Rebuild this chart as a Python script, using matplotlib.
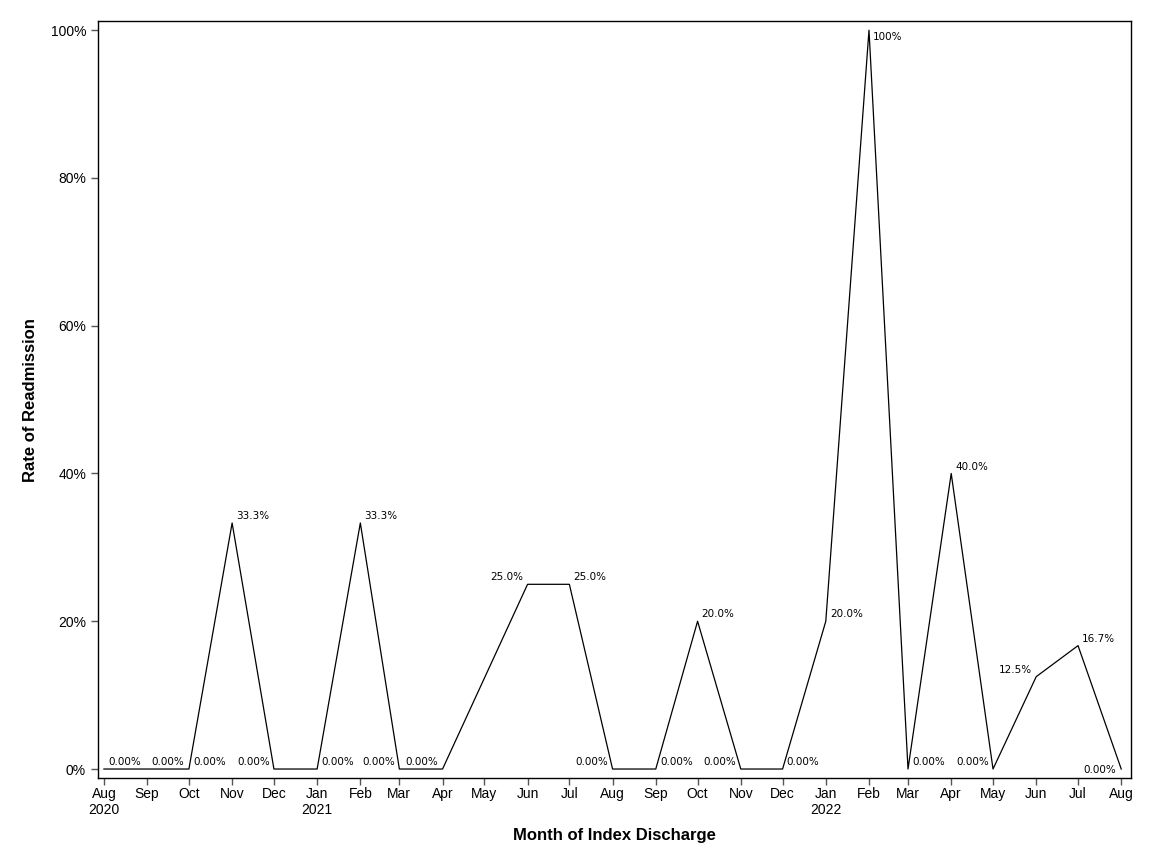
import numpy as np
import pandas as pd
import matplotlib
matplotlib.use('Agg')
import matplotlib.pyplot as plt
import matplotlib.dates as mdates
from matplotlib.ticker import FuncFormatter

plt.rcParams['font.family'] = ['Liberation Sans', 'DejaVu Sans']

# Monthly readmission rate (%) - May 2021 has no data
months = ['2020-08', '2020-09', '2020-10', '2020-11', '2020-12',
          '2021-01', '2021-02', '2021-03', '2021-04',
          '2021-06', '2021-07', '2021-08', '2021-09', '2021-10', '2021-11', '2021-12',
          '2022-01', '2022-02', '2022-03', '2022-04', '2022-05', '2022-06', '2022-07', '2022-08']
rates = [0, 0, 0, 33.3, 0,
         0, 33.3, 0, 0,
         25.0, 25.0, 0, 0, 20.0, 0, 0,
         20.0, 100, 0, 40.0, 0, 12.5, 16.7, 0]
labels = ['0.00%', '0.00%', '0.00%', '33.3%', '0.00%',
          '0.00%', '33.3%', '0.00%', '0.00%',
          '25.0%', '25.0%', '0.00%', '0.00%', '20.0%', '0.00%', '0.00%',
          '20.0%', '100%', '0.00%', '40.0%', '0.00%', '12.5%', '16.7%', '0.00%']

# where each data label sits relative to its point
label_side = ['r', 'r', 'r', 'r', 'l',
              'r', 'r', 'l', 'l',
              'l', 'r', 'l', 'r', 'r', 'l', 'r',
              'r', 'rb', 'r', 'r', 'l', 'l', 'r', 'lb']

dates = pd.to_datetime(months)

fig = plt.figure(figsize=(11.52, 8.64), dpi=100)
ax = fig.add_axes([0.085, 0.0995, 0.897, 0.876])

ax.plot(dates, rates, color='black', lw=0.9)

offsets = {'r': (3, 5, 'left', 'center'),
           'l': (-3, 5, 'right', 'center'),
           'rb': (3, -1.5, 'left', 'top'),
           'lb': (-4, -1, 'right', 'center')}
for d, v, t, s in zip(dates, rates, labels, label_side):
    dx, dy, ha, va = offsets[s]
    ax.annotate(t, (d, v), xytext=(dx, dy), textcoords='offset points',
                ha=ha, va=va, fontsize=7.5, family=['DejaVu Sans'])

ax.set_xlim(pd.Timestamp('2020-08-01') - pd.Timedelta(days=4.3),
            pd.Timestamp('2022-08-01') + pd.Timedelta(days=7.2))
ax.set_ylim(-1.22, 101.22)

tick_dates = pd.date_range('2020-08-01', '2022-08-01', freq='MS')
ax.set_xticks(tick_dates)
tick_labels = []
for i, d in enumerate(tick_dates):
    if i == 0 or d.month == 1:
        tick_labels.append(d.strftime('%b') + '\n' + d.strftime('%Y'))
    else:
        tick_labels.append(d.strftime('%b'))
ax.set_xticklabels(tick_labels)

ax.set_yticks([0, 20, 40, 60, 80, 100])
ax.yaxis.set_major_formatter(FuncFormatter(lambda v, p: f'{v:.0f}%'))

ax.tick_params(axis='both', direction='out', length=5, width=1, color='#555555',
               labelsize=10)
ax.tick_params(axis='x', pad=1.5)
for sp in ax.spines.values():
    sp.set_linewidth(1)

ax.set_xlabel('Month of Index Discharge', fontsize=12, fontweight='bold', labelpad=8)
ax.set_ylabel('Rate of Readmission', fontsize=12, fontweight='bold', labelpad=9)

fig.savefig('out.png', dpi=100)
